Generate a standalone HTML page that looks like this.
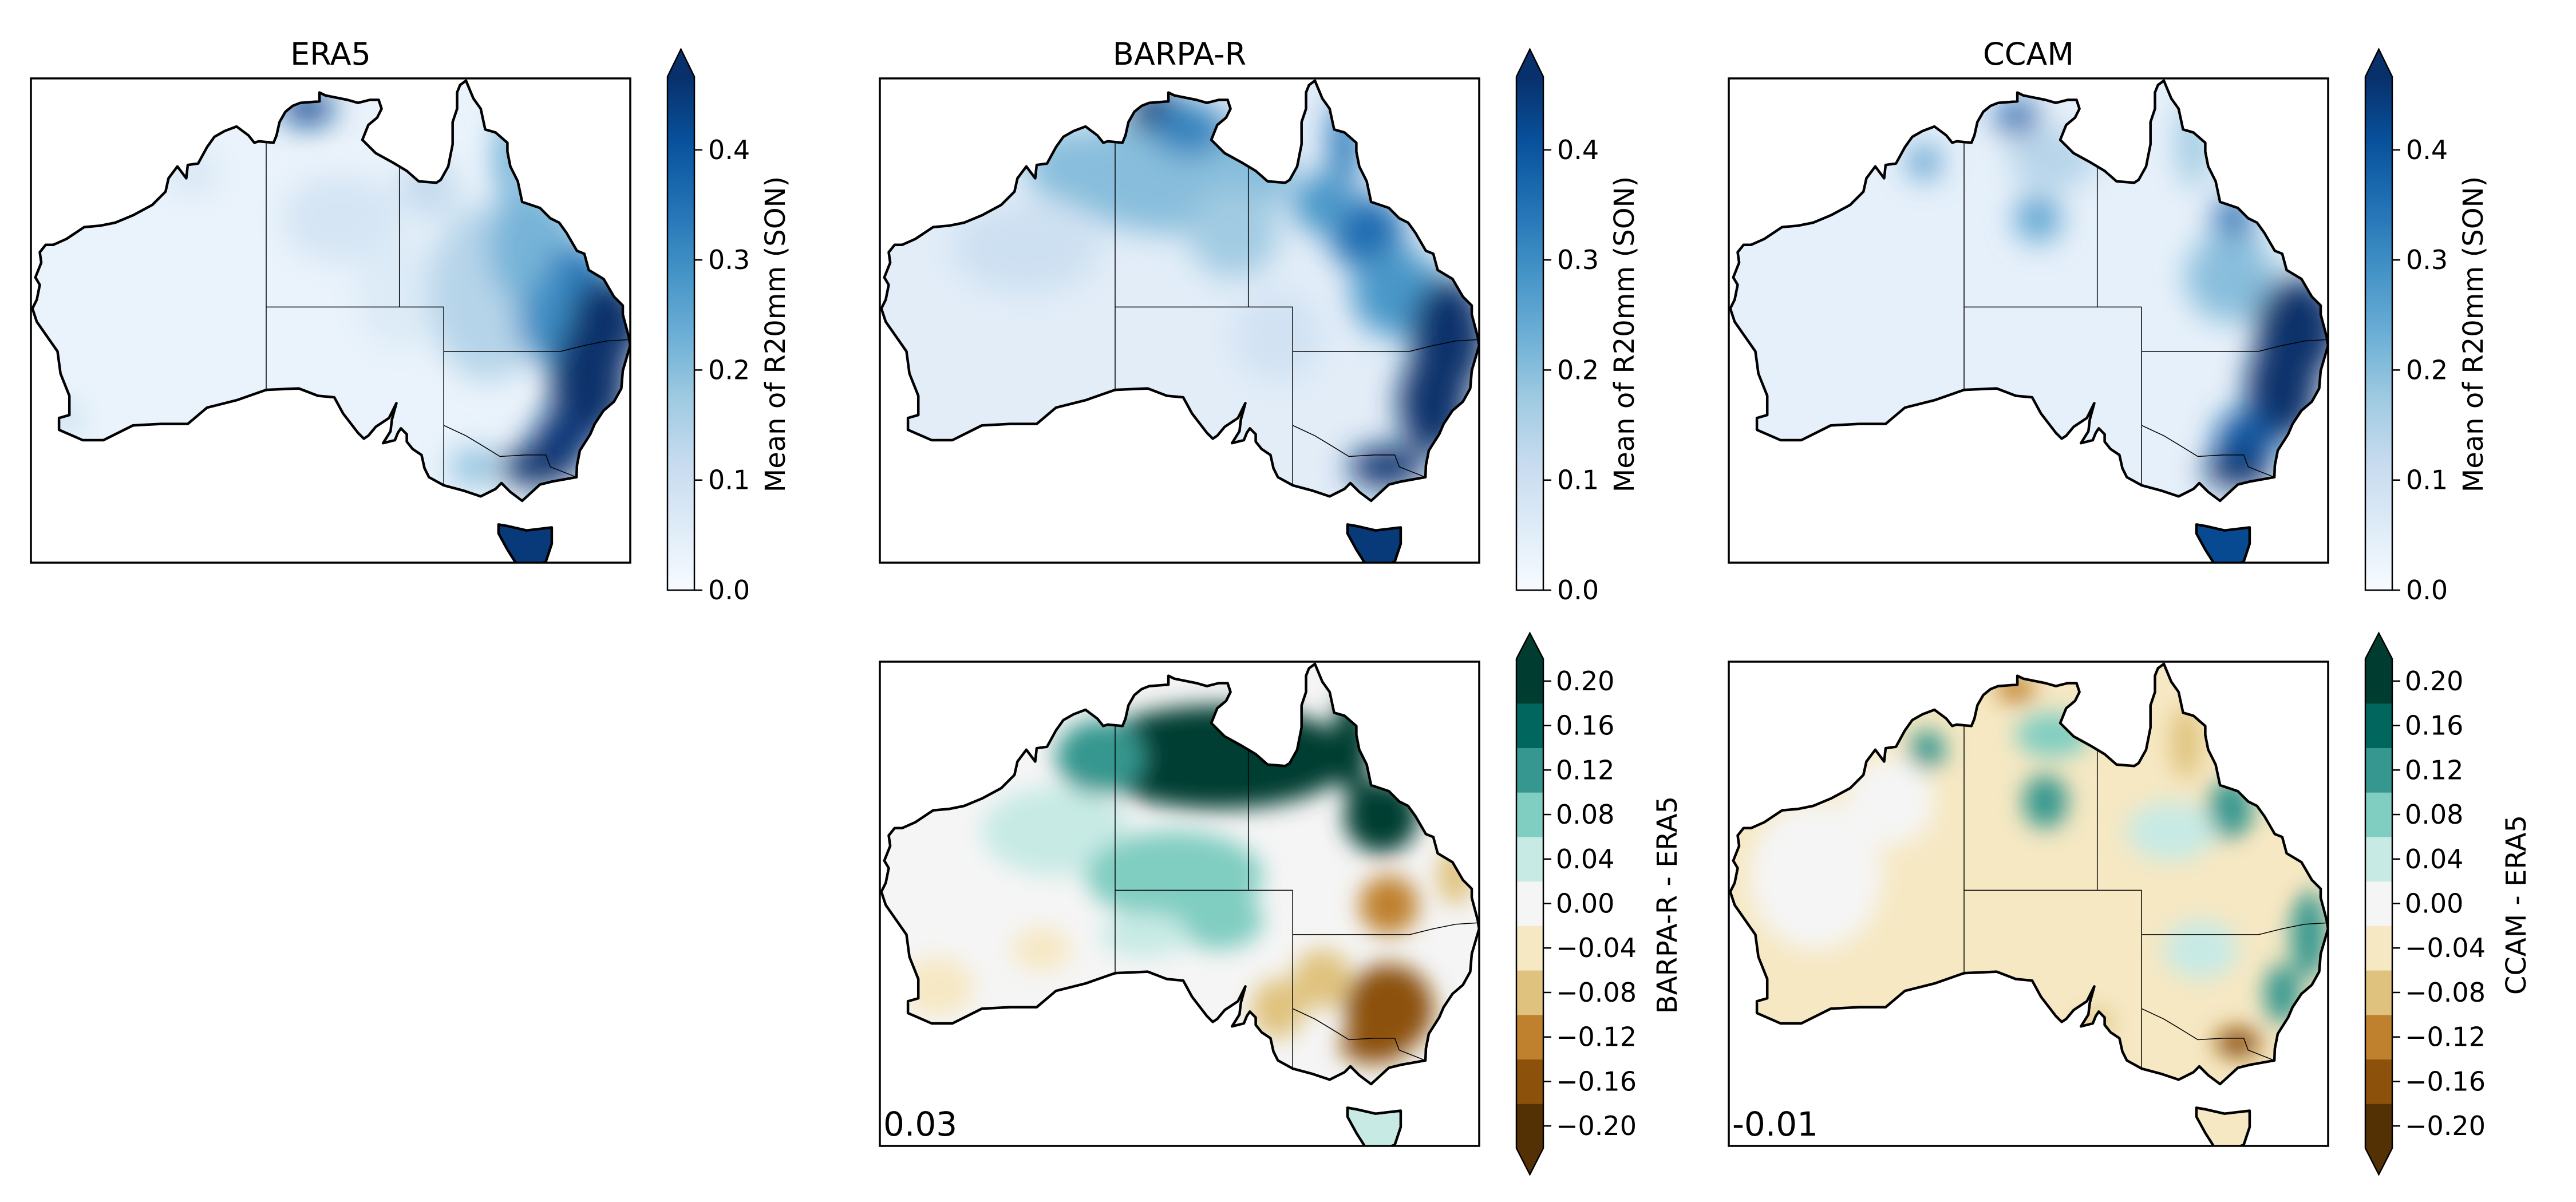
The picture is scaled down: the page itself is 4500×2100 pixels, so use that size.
<!DOCTYPE html>
<html><head><meta charset="utf-8"><style>
html,body{margin:0;padding:0;background:#fff;}
svg{display:block;font-family:"DejaVu Sans","Liberation Sans",sans-serif;}
</style></head><body>
<svg id="fig" width="4500" height="2100" viewBox="0 0 4500 2100" xmlns="http://www.w3.org/2000/svg">
<defs>
<filter id="blurA" x="-20%" y="-20%" width="140%" height="140%"><feGaussianBlur stdDeviation="26"/></filter>
<filter id="blurB" x="-20%" y="-20%" width="140%" height="140%"><feGaussianBlur stdDeviation="20"/></filter>
<linearGradient id="bluesGrad" x1="0" y1="1" x2="0" y2="0">
<stop offset="0" stop-color="#f7fbff"/><stop offset="0.125" stop-color="#deebf7"/><stop offset="0.25" stop-color="#c6dbef"/><stop offset="0.375" stop-color="#9ecae1"/><stop offset="0.5" stop-color="#6baed6"/><stop offset="0.625" stop-color="#4292c6"/><stop offset="0.75" stop-color="#2171b5"/><stop offset="0.875" stop-color="#08519c"/><stop offset="1" stop-color="#08306b"/>
</linearGradient>
</defs>
</svg>
<script>
// ---------- data ----------
const mapTitles = ["ERA5", "BARPA-R", "CCAM", "", ""];
const meanTicks = [0.0, 0.1, 0.2, 0.3, 0.4];
const meanTickLabels = ["0.0", "0.1", "0.2", "0.3", "0.4"];
const meanMax = 0.4665;
const diffLevels = [-0.22,-0.18,-0.14,-0.10,-0.06,-0.02,0.02,0.06,0.10,0.14,0.18,0.22];
const diffColors = ["#543005","#8c510a","#bf812d","#dfc27d","#f6e8c3","#f5f5f5","#c7eae5","#80cdc1","#35978f","#01665e","#003c30"];
const diffTicks = [-0.20,-0.16,-0.12,-0.08,-0.04,0.00,0.04,0.08,0.12,0.16,0.20];
const diffTickLabels = ["\u22120.20","\u22120.16","\u22120.12","\u22120.08","\u22120.04","0.00","0.04","0.08","0.12","0.16","0.20"];
const diffMeans = ["0.03", "-0.01"];
// Tasmania mean value per panel (ERA5, BARPA-R, CCAM, BARPA-R-ERA5, CCAM-ERA5)
const tasValues = [0.45, 0.45, 0.42, 0.04, -0.03];
// blobs: [lon, lat, rxDeg, ryDeg, value]
const era5Base = 0.03;
const era5Blobs = [[134,-20,4,3,0.08],[138,-25,3,4,0.06],[144,-25,4,6,0.14],[140,-18,2,2,0.12],[124,-17,2,1.5,0.07],
 [147,-22,3,4,0.22],[145.5,-16,1,3,0.24],[131.8,-12.6,1.8,1.1,0.42],[150,-24,2,2.2,0.33],[148.5,-27,2.5,3,0.3],[152,-27,2.5,3,0.5],
 [150.8,-31,2.6,4,0.5],[149,-35,2,2,0.45],[147.3,-36.8,2.6,1.3,0.5],[115.5,-33.5,0.6,0.8,0.18],[143,-36.8,1.5,1.2,0.2]];
const barpaBase = 0.05;
const barpaBlobs = [[133,-17,8,4,0.2],[126,-16.5,3,2.5,0.2],[131.8,-12.8,2,1.4,0.46],[134,-14,2.5,1.8,0.32],[137,-21,3,3,0.17],
 [144.5,-15,1,3,0.34],[146,-21,2.5,2.5,0.36],[143,-19,2,2,0.28],[148,-25,3,3,0.28],[151.5,-28,2.5,4,0.48],[150.5,-32.5,2.3,3.5,0.48],
 [147.3,-36.8,2.5,1.4,0.46],[140,-28,3,3,0.09],[123,-22,5,3,0.1]];
const ccamBase = 0.04;
const ccamBlobs = [[132.6,-13.2,1.5,1.1,0.38],[126.3,-16.2,1,1.1,0.3],[134,-20,1.5,1.6,0.26],[135,-16,3,2,0.14],[144.5,-15,1,3,0.18],
 [147.2,-20.5,1.3,2,0.36],[147,-24,3,3,0.2],[151.5,-27.5,2.8,3.5,0.5],[150.5,-31.5,2.4,3.5,0.5],[148,-35,2,2,0.4],[147.5,-37,2.3,1.2,0.48]];
const dBarpaBase = 0.0;
const dBarpaBlobs = [[125,-22,5,3,0.05],[133,-25,6,3,0.06],[136,-17,9,3.5,0.2],[128,-17,3,2.5,0.13],[145,-16,1.2,3.5,0.2],
 [147,-21,2.5,2.5,0.2],[136,-28,3,2,0.08],[131,-29,3,1.5,0.05],[119,-29,4,4,0.0],[117,-32.5,2.5,2,-0.04],[124,-30,2,1.5,-0.03],
 [147.5,-27,2,2,-0.14],[147.5,-34,3,3,-0.15],[146.5,-36.5,2.3,1.2,-0.15],[143,-32,2,2,-0.08],[140,-34,1.8,2,-0.09],[152,-25,1.2,2,-0.08]];
const dCcamBase = -0.03;
const dCcamBlobs = [[119,-25,4.5,5,0.0],[124,-20,3,3,0.0],[126.5,-16.5,1.2,1.3,0.12],[134.5,-20,1.5,1.8,0.13],[135,-15.5,2.5,1.5,0.06],[147,-20.5,1.5,2,0.12],
 [132.5,-12.4,1.3,0.9,-0.14],[144,-16,1,2.5,-0.08],[152.3,-29,1.2,3,0.12],[150.5,-33,1.2,2,0.1],[147.5,-36.3,1.5,1,-0.17],
 [143,-22,3,2,0.04],[145,-30,2.5,2,0.04],[140,-34,2,2,-0.06],[138,-35,1,1,-0.08],[149,-25,1.5,1.5,-0.05]];
// ---------- geometry ----------
const mainland = [[142.5,-10.7],[143.0,-11.9],[143.5,-12.6],[143.8,-14.0],[144.5,-14.2],[145.3,-14.9],[145.3,-15.5],[145.5,-16.5],[146.0,-17.5],[146.3,-18.9],[147.5,-19.3],[148.2,-20.0],[148.8,-20.3],[149.3,-21.0],[150.0,-22.2],[150.5,-22.4],[150.8,-23.5],[151.8,-24.1],[152.5,-25.3],[153.1,-25.9],[153.1,-26.5],[153.5,-28.0],[153.6,-28.6],[153.1,-30.3],[153.0,-31.5],[152.5,-32.4],[151.8,-33.0],[151.2,-33.9],[150.9,-34.6],[150.2,-35.7],[150.0,-36.7],[149.97,-37.5],[148.3,-37.8],[147.5,-38.0],[146.3,-39.1],[145.5,-38.5],[144.9,-37.9],[144.5,-38.3],[143.5,-38.8],[142.3,-38.4],[141.0,-38.05],[140.0,-37.5],[139.7,-36.9],[139.5,-36.0],[138.9,-35.6],[138.5,-35.1],[138.5,-34.6],[138.1,-34.2],[137.9,-34.5],[137.7,-35.0],[136.9,-35.2],[137.4,-34.4],[137.5,-33.6],[137.8,-32.5],[137.3,-33.5],[136.4,-34.1],[135.9,-34.7],[135.6,-34.9],[135.2,-34.5],[134.2,-33.2],[133.6,-32.1],[132.5,-32.0],[131.2,-31.5],[129.0,-31.6],[127.0,-32.3],[125.0,-32.8],[123.7,-33.9],[121.9,-33.9],[120.0,-34.0],[118.0,-35.0],[116.6,-35.0],[115.0,-34.3],[115.0,-33.5],[115.7,-33.3],[115.7,-32.0],[115.1,-30.5],[114.9,-29.0],[114.2,-28.0],[113.5,-27.0],[113.2,-26.1],[113.5,-25.5],[113.7,-24.5],[113.4,-24.0],[113.8,-23.0],[113.7,-22.3],[114.1,-21.8],[114.6,-21.8],[115.5,-21.4],[116.7,-20.6],[117.8,-20.5],[118.8,-20.3],[120.0,-19.8],[121.3,-19.1],[122.2,-18.2],[122.4,-17.3],[123.0,-16.5],[123.6,-17.3],[123.7,-16.4],[124.4,-16.3],[125.0,-15.2],[125.5,-14.5],[126.2,-14.1],[127.0,-13.8],[127.8,-14.4],[128.2,-14.9],[128.5,-14.8],[129.5,-14.9],[129.7,-14.4],[129.9,-13.5],[130.3,-12.8],[130.8,-12.4],[131.3,-12.2],[132.6,-12.1],[132.6,-11.5],[133.0,-11.7],[133.5,-11.8],[134.5,-12.0],[135.2,-12.2],[136.0,-12.0],[136.6,-12.0],[136.8,-12.6],[136.5,-13.2],[135.9,-13.7],[135.5,-14.7],[136.4,-15.6],[137.5,-16.2],[138.5,-16.8],[139.3,-17.5],[140.5,-17.6],[140.8,-17.4],[141.3,-16.5],[141.6,-15.0],[141.6,-13.5],[141.9,-12.6],[141.9,-11.5],[142.1,-11.0]];
const tasmania = [[144.7,-40.7],[145.3,-40.8],[146.6,-41.1],[148.3,-40.9],[148.3,-42.0],[147.9,-43.2],[146.9,-43.6],[146.0,-43.5],[145.3,-42.4],[144.7,-41.3]];
const borders = [
 [[129,-14.9],[129,-31.7]],
 [[129,-26],[141,-26]],
 [[138,-16.6],[138,-26]],
 [[141,-26],[141,-38.05]],
 [[141,-29],[148.9,-29],[150.5,-28.6],[152.0,-28.3],[153.55,-28.2]],
 [[141,-34],[142.5,-34.7],[143.5,-35.3],[144.8,-36.1],[146.5,-36.0],[147.9,-36.0],[148.2,-36.8],[149.97,-37.5]]
];
// ---------- layout ----------
const SVGNS = "http://www.w3.org/2000/svg";
const svg = document.getElementById("fig");
const defs = svg.querySelector("defs");
const FW = 1047, FH = 846, LON0 = 113.1, LAT0 = -10.55, K = 25.85;
const panels = [
 {x:54, y:137, kind:"mean", base:era5Base, blobs:era5Blobs, name:"era5"},
 {x:1537, y:137, kind:"mean", base:barpaBase, blobs:barpaBlobs, name:"barpa-r"},
 {x:3020, y:137, kind:"mean", base:ccamBase, blobs:ccamBlobs, name:"ccam"},
 {x:1537, y:1156, kind:"diff", base:dBarpaBase, blobs:dBarpaBlobs, name:"barpa-r-minus-era5", label:"BARPA-R - ERA5", mean:diffMeans[0]},
 {x:3020, y:1156, kind:"diff", base:dCcamBase, blobs:dCcamBlobs, name:"ccam-minus-era5", label:"CCAM - ERA5", mean:diffMeans[1]}
];
function el(tag, attrs, parent){const e=document.createElementNS(SVGNS,tag);for(const k in attrs)e.setAttribute(k,attrs[k]);(parent||svg).appendChild(e);return e;}
function hex2rgb(h){return [parseInt(h.substr(1,2),16),parseInt(h.substr(3,2),16),parseInt(h.substr(5,2),16)];}
const bluesStops = ["#f7fbff","#deebf7","#c6dbef","#9ecae1","#6baed6","#4292c6","#2171b5","#08519c","#08306b"].map(hex2rgb);
function blues(v){let t=Math.max(0,Math.min(1,v/meanMax))*8;const i=Math.min(7,Math.floor(t));const f=t-i;const a=bluesStops[i],b=bluesStops[i+1];
 return "rgb("+a.map((c,j)=>Math.round(c+(b[j]-c)*f)).join(",")+")";}
function brbg(v){for(let i=0;i<diffColors.length;i++){if(v<diffLevels[i+1])return diffColors[i];}return diffColors[diffColors.length-1];}
function pathOf(pts,px,py,close){return pts.map((p,i)=>(i?"L":"M")+px(p[0]).toFixed(1)+","+py(p[1]).toFixed(1)).join("")+(close?"Z":"");}

panels.forEach((P,idx)=>{
 const px = lon => P.x + (lon-LON0)*K;
 const py = lat => P.y + (LAT0-lat)*K;
 const g = el("g",{});
 
 
 const mainPath = pathOf(mainland,px,py,true);
 const tasPath = pathOf(tasmania,px,py,true);
 const land = mainPath+tasPath;
 const cp = el("clipPath",{id:"clip"+idx},defs);
 el("path",{d:mainPath},cp);
 const fcp = el("clipPath",{id:"fclip"+idx},defs);
 el("rect",{x:P.x,y:P.y,width:FW,height:FH},fcp);
 const color = P.kind==="mean"?blues:brbg;
 const fill = el("g",{"clip-path":"url(#clip"+idx+")"},g);
 
 
 el("path",{d:mainPath,fill:color(P.base)},fill);
 const bl = el("g",{filter:P.kind==="mean"?"url(#blurA)":"url(#blurB)"},fill);
 P.blobs.forEach(b=>{
  const e = el("ellipse",{cx:px(b[0]),cy:py(b[1]),rx:b[2]*K,ry:b[3]*K,fill:color(b[4])},bl);
  
  
 });
 const tas = el("path",{d:tasPath,fill:color(tasValues[idx]),"clip-path":"url(#fclip"+idx+")"},g);
 
 
 const lines = el("g",{"clip-path":"url(#fclip"+idx+")"},g);
 borders.forEach(b=>{const l=el("path",{d:pathOf(b,px,py,false),fill:"none",stroke:"#000","stroke-width":1.5},lines);
  
  });
 const coast = el("path",{d:land,fill:"none",stroke:"#000","stroke-width":4.5,"stroke-linejoin":"round"},lines);
 
 
 const fr = el("rect",{x:P.x,y:P.y,width:FW,height:FH,fill:"none",stroke:"#000","stroke-width":3.5},g);
 
 
 if(P.kind==="mean"){
  const t = el("text",{x:P.x+FW/2,y:113,"text-anchor":"middle","font-size":54,fill:"#000"},g);
  t.textContent = mapTitles[idx];
  
  
  const cx = P.x+FW+65, cw=47, top=134, bot=1031;
  const cb = el("g",{},g);
  
  
  el("rect",{x:cx,y:top,width:cw,height:bot-top,fill:"url(#bluesGrad)"},cb);
  el("path",{d:`M${cx},${top}L${cx+cw/2},86L${cx+cw},${top}Z`,fill:"#08306b"},cb);
  el("path",{d:`M${cx},${top}L${cx+cw/2},86L${cx+cw},${top}L${cx+cw},${bot}L${cx},${bot}Z`,fill:"none",stroke:"#000","stroke-width":2.5},cb);
  const vy = v => bot - v/meanMax*(bot-top);
  meanTicks.forEach((v,i)=>{
   el("line",{x1:cx+cw,x2:cx+cw+14,y1:vy(v),y2:vy(v),stroke:"#000","stroke-width":2.5},cb);
   const tl = el("text",{x:cx+cw+24,y:vy(v)+16,"font-size":46,fill:"#000"},cb);
   tl.textContent = meanTickLabels[i];
   
   
  });
  const lb = el("text",{x:0,y:0,"text-anchor":"middle","font-size":48,fill:"#000",transform:`translate(${cx+205},584) rotate(-90)`},cb);
  lb.textContent = "Mean of R20mm (SON)";
  
  
 } else {
  const mt = el("text",{x:P.x+6,y:1984,"font-size":58,fill:"#000"},g);
  mt.textContent = P.mean;
  
  
  const cx = P.x+FW+65, cw=47, top=1151, bot=2006;
  const cb = el("g",{},g);
  
  
  const vy = v => (top+bot)/2 - v/0.44*(bot-top);
  for(let i=0;i<diffColors.length;i++){
   const r = el("rect",{x:cx,y:vy(diffLevels[i+1]),width:cw,height:vy(diffLevels[i])-vy(diffLevels[i+1])+0.5,fill:diffColors[i]},cb);
   
   
  }
  el("path",{d:`M${cx},${top}L${cx+cw/2},1106L${cx+cw},${top}Z`,fill:"#003c30"},cb);
  el("path",{d:`M${cx},${bot}L${cx+cw/2},2052L${cx+cw},${bot}Z`,fill:"#543005"},cb);
  el("path",{d:`M${cx},${top}L${cx+cw/2},1106L${cx+cw},${top}L${cx+cw},${bot}L${cx+cw/2},2052L${cx},${bot}Z`,fill:"none",stroke:"#000","stroke-width":2.5},cb);
  diffTicks.forEach((v,i)=>{
   el("line",{x1:cx+cw,x2:cx+cw+14,y1:vy(v),y2:vy(v),stroke:"#000","stroke-width":2.5},cb);
   const tl = el("text",{x:cx+cw+22,y:vy(v)+16,"font-size":46,fill:"#000"},cb);
   tl.textContent = diffTickLabels[i];
   
   
  });
  const lb = el("text",{x:0,y:0,"text-anchor":"middle","font-size":48,fill:"#000",transform:`translate(${cx+280},1581) rotate(-90)`},cb);
  lb.textContent = P.label;
  
  
 }
});
</script>
</body></html>
